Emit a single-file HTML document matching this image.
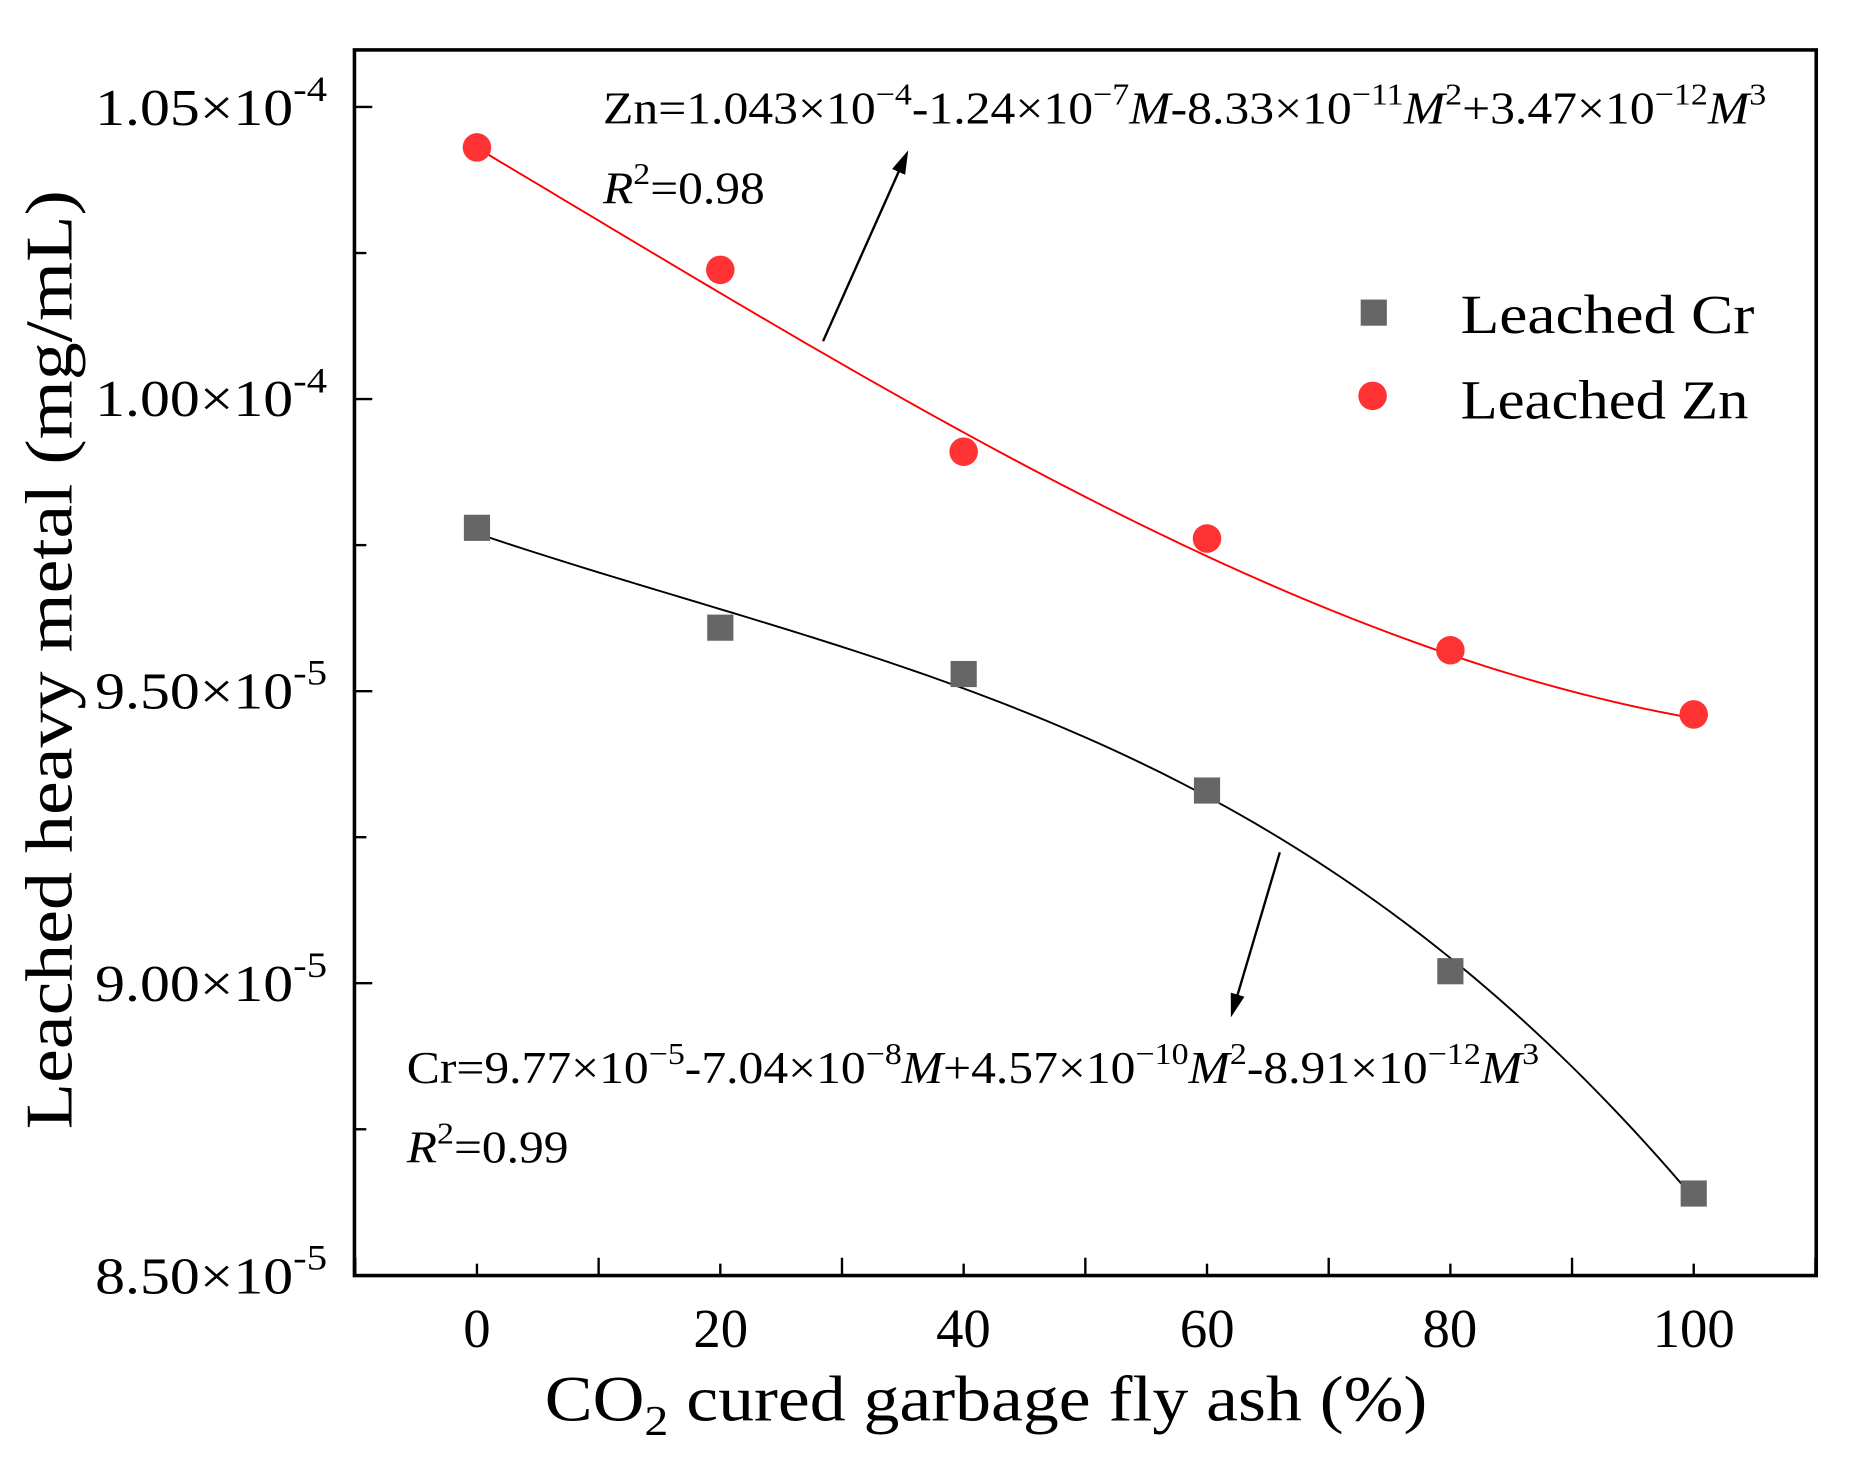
<!DOCTYPE html><html><head><style>body{margin:0;background:#fff}svg{display:block}text{font-family:"Liberation Serif",serif;fill:#000}</style></head><body>
<svg id="s" width="1865" height="1461" viewBox="0 0 1568 1229" preserveAspectRatio="none">
<defs><marker id="ar" markerWidth="20" markerHeight="16" refX="16" refY="8" orient="auto" markerUnits="userSpaceOnUse" viewBox="0 0 20 16"><path d="M0,2 L20,8 L0,14z" fill="#000"/></marker></defs>
<rect x="298" y="42" width="1229" height="1031" fill="none" stroke="#000" stroke-width="3"/>
<g id="g"></g>
<g font-size="44" text-anchor="end">
<text x="275" y="105" textLength="195" lengthAdjust="spacingAndGlyphs">1.05×10<tspan dy="-20" font-size="30">-4</tspan></text>
<text x="275" y="350" textLength="195" lengthAdjust="spacingAndGlyphs">1.00×10<tspan dy="-20" font-size="30">-4</tspan></text>
<text x="275" y="596" textLength="195" lengthAdjust="spacingAndGlyphs">9.50×10<tspan dy="-20" font-size="30">-5</tspan></text>
<text x="275" y="842" textLength="195" lengthAdjust="spacingAndGlyphs">9.00×10<tspan dy="-20" font-size="30">-5</tspan></text>
<text x="275" y="1088" textLength="195" lengthAdjust="spacingAndGlyphs">8.50×10<tspan dy="-20" font-size="30">-5</tspan></text>
</g>
<g font-size="46" text-anchor="middle">
<text x="401" y="1133">0</text><text x="606" y="1133">20</text><text x="810" y="1133">40</text><text x="1015" y="1133">60</text><text x="1219" y="1133">80</text><text x="1424" y="1133">100</text>
</g>
<text x="458" y="1195" font-size="54" textLength="742" lengthAdjust="spacingAndGlyphs">CO<tspan dy="12" font-size="36">2</tspan><tspan dy="-12"> cured garbage fly ash (%)</tspan></text>
<text transform="translate(60,950) rotate(-90)" font-size="56" textLength="790" lengthAdjust="spacingAndGlyphs">Leached heavy metal (mg/mL)</text>
<rect x="1144" y="252" width="22" height="22" fill="#666"/>
<circle cx="1154" cy="333" r="12" fill="#f33"/>
<text x="1228" y="280" font-size="46" textLength="247" lengthAdjust="spacingAndGlyphs">Leached  Cr</text>
<text x="1228" y="352" font-size="46" textLength="242" lengthAdjust="spacingAndGlyphs">Leached Zn</text>
<text x="507" y="104" font-size="38" textLength="978" lengthAdjust="spacingAndGlyphs">Zn=1.043×10<tspan dy="-16" font-size="26">−4</tspan><tspan dy="16">-1.24×10</tspan><tspan dy="-16" font-size="26">−7</tspan><tspan dy="16" font-style="italic">M</tspan>-8.33×10<tspan dy="-16" font-size="26">−11</tspan><tspan dy="16" font-style="italic">M</tspan><tspan dy="-16" font-size="26">2</tspan><tspan dy="16">+3.47×10</tspan><tspan dy="-16" font-size="26">−12</tspan><tspan dy="16" font-style="italic">M</tspan><tspan dy="-16" font-size="26">3</tspan></text>
<text x="507" y="171" font-size="38" textLength="136" lengthAdjust="spacingAndGlyphs"><tspan font-style="italic">R</tspan><tspan dy="-16" font-size="26">2</tspan><tspan dy="16">=0.98</tspan></text>
<text x="342" y="911" font-size="38" textLength="952" lengthAdjust="spacingAndGlyphs">Cr=9.77×10<tspan dy="-16" font-size="26">−5</tspan><tspan dy="16">-7.04×10</tspan><tspan dy="-16" font-size="26">−8</tspan><tspan dy="16" font-style="italic">M</tspan>+4.57×10<tspan dy="-16" font-size="26">−10</tspan><tspan dy="16" font-style="italic">M</tspan><tspan dy="-16" font-size="26">2</tspan><tspan dy="16">-8.91×10</tspan><tspan dy="-16" font-size="26">−12</tspan><tspan dy="16" font-style="italic">M</tspan><tspan dy="-16" font-size="26">3</tspan></text>
<text x="342" y="978" font-size="38" textLength="136" lengthAdjust="spacingAndGlyphs"><tspan font-style="italic">R</tspan><tspan dy="-16" font-size="26">2</tspan><tspan dy="16">=0.99</tspan></text>
<line x1="692" y1="287" x2="762" y2="130" stroke="#000" stroke-width="2" marker-end="url(#ar)"/>
<line x1="1076" y1="717" x2="1036" y2="852" stroke="#000" stroke-width="2" marker-end="url(#ar)"/>
</svg>
<script>
var g=document.getElementById('g'),h='';
function X(m){return 401+m*10.23}
function Y(v){return 90+(1.05e-4-v)/0.5e-5*245.7}
for(var i=0;i<=12;i++){var x=X(-10+i*10);if(x>298&&x<1527)h+='<line x1="'+x+'" y1="1073" x2="'+x+'" y2="'+(i%2?1063:1058)+'" stroke="#000" stroke-width="2"/>';}
for(var j=0;j<9;j++){var y=90+j*122.85;h+='<line x1="298" y1="'+y+'" x2="'+(j%2?308:313)+'" y2="'+y+'" stroke="#000" stroke-width="2"/>';}
var pz='',pc='';
for(var m=0;m<=100;m+=1){var zn=1.043e-4-1.24e-7*m-8.33e-11*m*m+3.47e-12*m*m*m;var cr=9.77e-5-7.04e-8*m+4.57e-10*m*m-8.91e-12*m*m*m;pz+=(m?'L':'M')+X(m)+','+Y(zn);pc+=(m?'L':'M')+X(m)+','+Y(cr);}
h+='<path d="'+pz+'" fill="none" stroke="#f00" stroke-width="1.6"/><path d="'+pc+'" fill="none" stroke="#000" stroke-width="1.6"/>';
var zn=[124,227,380,453,547,601],cr=[444,528,567,665,817,1004];
for(var k=0;k<6;k++){var x=X(k*20);h+='<rect x="'+(x-11)+'" y="'+(cr[k]-11)+'" width="22" height="22" fill="#666"/><circle cx="'+x+'" cy="'+zn[k]+'" r="12" fill="#f33"/>';}
g.innerHTML=h;
</script>
</body></html>
